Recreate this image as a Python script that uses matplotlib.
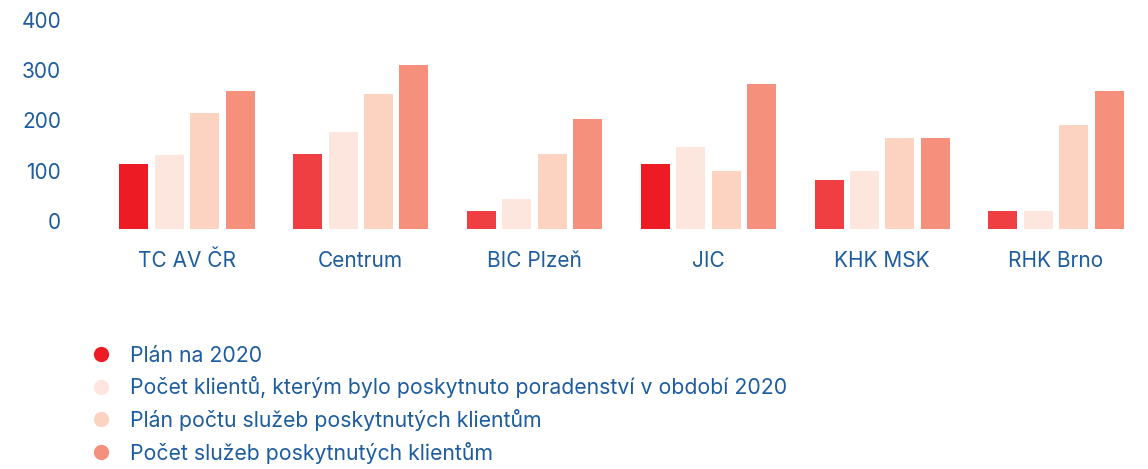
import matplotlib
matplotlib.use("Agg")
import matplotlib.pyplot as plt
import numpy as np
from matplotlib.lines import Line2D

plt.rcParams["font.family"] = ["Inter", "DejaVu Sans"]

categories = ["TC AV ČR", "Centrum", "BIC Plzeň", "JIC", "KHK MSK", "RHK Brno"]
series_names = [
    "Plán na 2020",
    "Počet klientů, kterým bylo poskytnuto poradenství v období 2020",
    "Plán počtu služeb poskytnutých klientům",
    "Počet služeb poskytnutých klientům",
]
plan_2020 = [129, 149, 36, 129, 98, 36]
clients_2020 = [147, 194, 60, 163, 116, 36]
services_plan = [231, 268, 149, 116, 181, 207]
services_done = [275, 327, 219, 289, 181, 275]
y_ticks = [0, 100, 200, 300, 400]

TEXT = "#1D5C9E"
COLORS = ["#ED1C24", "#FDE6DD", "#FCD2C1", "#F4907C"]
# first series: some bars drawn in a slightly softer red
PLAN_BAR_COLORS = ["#ED1C24", "#EF3F43", "#EF3F43", "#ED1C24", "#EF3F43", "#EF3F43"]

W, H = 1148, 469
fig = plt.figure(figsize=(W / 100, H / 100), dpi=100)
ax = fig.add_axes([75 / W, (H - 229) / H, 1 - 75 / W, (229 - 28) / H])

x = np.arange(len(categories))
step, width = 0.204, 0.167
data = [plan_2020, clients_2020, services_plan, services_done]
for i, vals in enumerate(data):
    col = PLAN_BAR_COLORS if i == 0 else COLORS[i]
    ax.bar(x + (i - 1.5) * step, vals, width=width, color=col, linewidth=0)

x0, unit = 187, 173.8  # pixel of first group centre, pixels per group
ax.set_xlim((75 - x0) / unit, (W - x0) / unit)
ax.set_ylim(0, 400)
ax.set_yticks(y_ticks)
ax.set_xticks([])
ax.tick_params(axis="y", length=0, pad=10, labelsize=15, labelcolor=TEXT)
for lab in ax.get_yticklabels():
    lab.set_verticalalignment("baseline")
for s in ax.spines.values():
    s.set_visible(False)

for xi, cat in zip(x, categories):
    ax.annotate(cat, xy=(xi, 0), xycoords="data", xytext=(0, -32),
                textcoords="offset pixels", ha="center", va="center",
                fontsize=15, color=TEXT)

handles = [Line2D([], [], marker="o", linestyle="none", markersize=11,
                  markerfacecolor=c, markeredgewidth=0) for c in COLORS]
fig.legend(handles, series_names, loc="upper left", bbox_to_anchor=(78 / W, 1 - 335 / H),
           frameon=False, fontsize=15.3, labelcolor=TEXT, handletextpad=0.75,
           labelspacing=0.5, borderpad=0, handlelength=1.2)

fig.savefig("out.png", dpi=100)
